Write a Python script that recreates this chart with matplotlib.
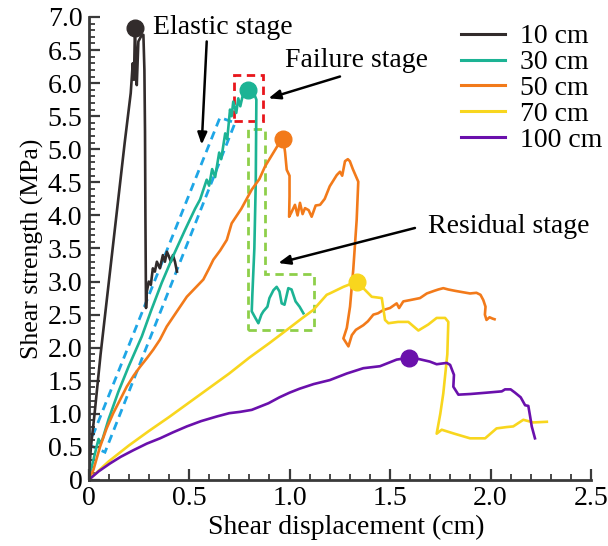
import matplotlib
matplotlib.use("Agg")
import matplotlib.pyplot as plt
from matplotlib.patches import Polygon, Rectangle
from matplotlib.ticker import MultipleLocator, FuncFormatter

plt.rcParams['font.family'] = ['Liberation Serif', 'DejaVu Serif']
plt.rcParams['mathtext.fontset'] = 'stix'

# ---- shear test curves: displacement (cm) vs shear strength (MPa) ----
labels = ["10 cm", "30 cm", "50 cm", "70 cm", "100 cm"]
colors = ["#322c2c", "#1cb394", "#f27a1a", "#f8d61e", "#6a10ac"]

disp_10 = [0, 0.012, 0.03, 0.045, 0.06, 0.09, 0.12, 0.15, 0.18, 0.21, 0.22, 0.226, 0.231,
           0.236, 0.24, 0.248, 0.26, 0.273, 0.278, 0.281, 0.283, 0.286, 0.29, 0.30, 0.31,
           0.32, 0.33, 0.34, 0.355, 0.37, 0.38, 0.39, 0.40, 0.41, 0.42, 0.43, 0.44]
stress_10 = [0, 0.5, 1.0, 1.45, 1.9, 2.7, 3.5, 4.3, 5.1, 5.85, 6.3, 6.05, 6.84,
             6.3, 5.97, 6.63, 6.7, 6.73, 6.2, 5.27, 4.0, 2.6, 2.85, 3.0, 2.95,
             3.2, 3.15, 3.3, 3.2, 3.4, 3.3, 3.45, 3.38, 3.3, 3.4, 3.3, 3.15]

disp_30 = [0, 0.02, 0.04, 0.05, 0.058, 0.07, 0.1, 0.148, 0.2, 0.265, 0.31, 0.364, 0.42,
           0.48, 0.53, 0.555, 0.588, 0.6, 0.615, 0.63, 0.65, 0.66, 0.68, 0.69, 0.704,
           0.712, 0.72, 0.735, 0.745, 0.755, 0.77, 0.795, 0.82, 0.835, 0.832, 0.825,
           0.815, 0.812, 0.83, 0.845, 0.86, 0.87, 0.89, 0.9, 0.92, 0.936, 0.95, 0.961,
           0.975, 0.994, 1.01, 1.03, 1.05, 1.069]
stress_30 = [0, 0.25, 0.5, 0.62, 0.55, 0.62, 0.92, 1.33, 1.72, 2.17, 2.55, 2.98, 3.38,
             3.78, 4.1, 4.24, 4.54, 4.45, 4.7, 4.58, 4.95, 4.85, 5.24, 5.15, 5.6,
             5.5, 5.72, 5.55, 5.77, 5.65, 5.85, 5.9, 5.87, 5.75, 4.5, 3.5,
             2.8, 2.55, 2.45, 2.37, 2.5, 2.55, 2.62, 2.75, 2.87, 2.92, 2.85, 2.67,
             2.65, 2.9, 2.88, 2.7, 2.62, 2.52]

disp_50 = [0, 0.024, 0.057, 0.09, 0.123, 0.155, 0.19, 0.225, 0.256, 0.29, 0.322, 0.355,
           0.389, 0.44, 0.489, 0.53, 0.571, 0.6, 0.621, 0.655, 0.688, 0.712, 0.76, 0.812,
           0.85, 0.878, 0.91, 0.944, 0.969, 0.978, 0.986, 1.0, 1.0, 0.998, 1.01, 1.027,
           1.04, 1.052, 1.065, 1.077, 1.095, 1.11, 1.13, 1.152, 1.175, 1.2, 1.235, 1.251,
           1.262, 1.276, 1.29, 1.3, 1.315, 1.342, 1.334, 1.317, 1.301, 1.285, 1.268,
           1.293, 1.31, 1.33, 1.367, 1.39, 1.417, 1.44, 1.467, 1.5, 1.533, 1.545, 1.566,
           1.6, 1.649, 1.683, 1.72, 1.74, 1.765, 1.79, 1.823, 1.86, 1.898, 1.93, 1.95,
           1.964, 1.975, 1.972, 1.98, 1.995, 2.01, 2.02]
stress_50 = [0, 0.15, 0.5, 0.78, 1.01, 1.2, 1.41, 1.58, 1.71, 1.84, 1.97, 2.12,
             2.32, 2.55, 2.77, 2.9, 3.03, 3.2, 3.33, 3.47, 3.63, 3.88, 4.1, 4.39,
             4.55, 4.74, 4.9, 5.07, 5.15, 4.95, 4.69, 4.6, 4.29, 3.98, 4.05, 4.16,
             4.0, 4.19, 4.02, 4.11, 4.08, 3.98, 4.15, 4.16, 4.25, 4.44, 4.61, 4.66,
             4.6, 4.82, 4.85, 4.82, 4.7, 4.51, 3.93, 3.18, 2.62, 2.3, 2.14,
             2.02, 2.19, 2.27, 2.34, 2.4, 2.5, 2.52, 2.57, 2.6, 2.67, 2.6, 2.7,
             2.72, 2.75, 2.82, 2.86, 2.88, 2.9, 2.88, 2.86, 2.84, 2.82, 2.83, 2.8,
             2.72, 2.62, 2.5, 2.42, 2.46, 2.44, 2.43]

disp_70 = [0, 0.1, 0.2, 0.3, 0.4, 0.5, 0.6, 0.7, 0.8, 0.9, 1.0, 1.06, 1.118, 1.185, 1.2,
           1.268, 1.293, 1.334, 1.367, 1.409, 1.459, 1.475, 1.492, 1.54, 1.591, 1.641,
           1.69, 1.732, 1.774, 1.79, 1.785, 1.765, 1.75, 1.732, 1.757, 1.82, 1.898, 1.973,
           2.03, 2.08, 2.113, 2.163, 2.213, 2.28]
stress_70 = [0, 0.28, 0.52, 0.74, 0.95, 1.17, 1.39, 1.61, 1.85, 2.07, 2.3, 2.44, 2.57, 2.8, 2.82,
             2.92, 2.95, 3.0, 2.9, 2.77, 2.75, 2.42, 2.37, 2.39, 2.39, 2.26,
             2.35, 2.45, 2.45, 2.39, 1.9, 1.31, 1.0, 0.70, 0.76, 0.7, 0.63, 0.63,
             0.78, 0.8, 0.81, 0.91, 0.87, 0.88]

disp_100 = [0, 0.05, 0.107, 0.16, 0.223, 0.29, 0.356, 0.42, 0.489, 0.56, 0.638, 0.7,
            0.754, 0.812, 0.895, 0.95, 1.0, 1.05, 1.12, 1.2, 1.285, 1.367, 1.45, 1.533,
            1.596, 1.641, 1.698, 1.732, 1.782, 1.799, 1.818, 1.815, 1.84, 1.9, 1.98,
            2.056, 2.072, 2.1, 2.122, 2.15, 2.172, 2.188, 2.197, 2.205, 2.221]
stress_100 = [0, 0.13, 0.25, 0.35, 0.45, 0.55, 0.63, 0.72, 0.81, 0.89, 0.96, 1.01,
              1.03, 1.06, 1.16, 1.25, 1.32, 1.38, 1.45, 1.51, 1.61, 1.69, 1.72, 1.82,
              1.85, 1.83, 1.79, 1.75, 1.77, 1.74, 1.59, 1.41, 1.29, 1.3, 1.32,
              1.34, 1.37, 1.37, 1.32, 1.25, 1.13, 1.12, 0.96, 0.81, 0.63]

curves_disp = [disp_10, disp_30, disp_50, disp_70, disp_100]
curves_stress = [stress_10, stress_30, stress_50, stress_70, stress_100]

# peak strength of each curve
peak_disp = [0.231, 0.795, 0.969, 1.334, 1.596]
peak_stress = [6.84, 5.9, 5.15, 3.0, 1.85]

fig = plt.figure(figsize=(6.08, 5.46), dpi=100)
ax = fig.add_axes([0.1456, 0.1209, 0.8265, 0.848])

for xs, ys, c, lab in zip(curves_disp, curves_stress, colors, labels):
    ax.plot(xs, ys, color=c, lw=1.9, label=lab, solid_joinstyle='round')
for px, py, c in zip(peak_disp, peak_stress, colors):
    ax.plot(px, py, 'o', color=c, ms=12, zorder=5)

# stage highlight boxes
elastic_box = [(0.0025, 0.53), (0.082, 0.42), (0.729, 5.40), (0.654, 5.48)]
ax.add_patch(Polygon(elastic_box, closed=True, fill=False, ec="#1ea6e6",
                     lw=2, ls=(0, (3, 2))))
ax.add_patch(Rectangle((0.724, 5.42), 0.146, 0.71, fill=False, ec="#e8161c",
                       lw=2, ls=(0, (3, 2))))
residual_box = [(0.795, 2.27), (1.12, 2.27), (1.12, 3.12), (0.876, 3.12),
                (0.876, 5.31), (0.795, 5.31)]
ax.add_patch(Polygon(residual_box, closed=True, fill=False, ec="#8ecf4a",
                     lw=2, ls=(0, (3, 2))))

arrow = dict(arrowstyle='-|>,head_length=0.7,head_width=0.28', color='black',
             lw=1.8, shrinkA=0, shrinkB=0)
fs = 20
ax.text(0.321, 6.84, "Elastic stage", fontsize=fs, ha='left', va='center')
ax.annotate("", xy=(0.563, 5.07), xytext=(0.588, 6.63), arrowprops=arrow)
ax.text(0.978, 6.34, "Failure stage", fontsize=fs, ha='left', va='center')
ax.annotate("", xy=(0.895, 5.77), xytext=(1.251, 6.10), arrowprops=arrow)
ax.text(1.69, 3.83, "Residual stage", fontsize=fs, ha='left', va='center', clip_on=False)
ax.annotate("", xy=(0.944, 3.28), xytext=(1.624, 3.81), arrowprops=arrow)

ax.set_xlim(0, 2.5)
ax.set_ylim(0, 7.0)
ax.xaxis.set_major_locator(MultipleLocator(0.5))
ax.xaxis.set_minor_locator(MultipleLocator(0.1))
ax.yaxis.set_major_locator(MultipleLocator(0.5))
ax.yaxis.set_minor_locator(MultipleLocator(0.1))
fmt = FuncFormatter(lambda v, p: "0" if abs(v) < 1e-9 else f"{v:.1f}")
ax.xaxis.set_major_formatter(fmt)
ax.yaxis.set_major_formatter(fmt)

spine_c = "#3a3a3a"
for s in ("top", "right"):
    ax.spines[s].set_visible(False)
for s in ("left", "bottom"):
    ax.spines[s].set_linewidth(2)
    ax.spines[s].set_color(spine_c)
ax.tick_params(which='major', direction='in', length=8, width=1.6, color=spine_c,
               labelsize=20)
ax.tick_params(axis='x', which='major', pad=4)
ax.tick_params(axis='y', which='major', pad=4.5)
ax.tick_params(which='minor', direction='in', length=4, width=1.3, color=spine_c)

ax.set_xlabel("Shear displacement (cm)", fontsize=fs)
ax.set_ylabel("Shear strength (MPa)", fontsize=18.5)
ax.xaxis.set_label_coords(0.512, -0.075)
ax.yaxis.set_label_coords(-0.089, 0.50)

leg_handles = ax.get_lines()[:5]
ax.legend(leg_handles, labels, loc='upper left', bbox_to_anchor=(461 / 608, 1 - 24 / 546),
          bbox_transform=fig.transFigure, frameon=False, fontsize=fs, borderpad=0,
          borderaxespad=0, handlelength=1.58, handletextpad=0.54, labelspacing=0.015)
for ln in ax.get_legend().get_lines():
    ln.set_linewidth(2.2)

fig.savefig("out.png", dpi=100)
